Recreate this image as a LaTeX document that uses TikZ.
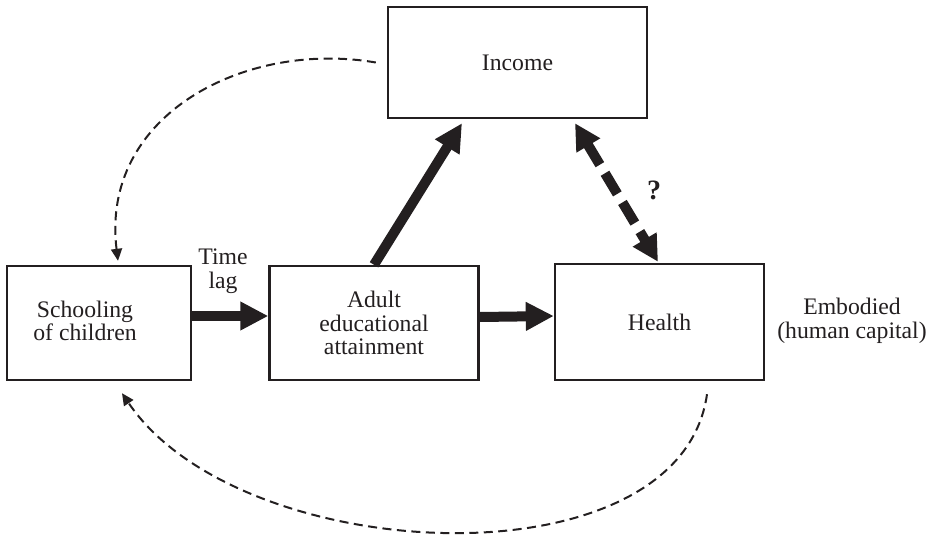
\documentclass[tikz,border=0pt]{standalone}
\usepackage{fontspec}
\setmainfont{Liberation Serif}
\usetikzlibrary{arrows.meta}
\definecolor{ink}{HTML}{231F20}
\begin{document}
\begin{tikzpicture}[x=1pt,y=-1pt,
  txt/.style={inner sep=0pt, align=center, text=ink, font=\fontsize{23.7}{23.5}\selectfont},
  box/.style={txt, draw=ink, line width=2.4pt},
  thickarrow/.style={draw=ink, line width=10pt, -{Triangle[length=28pt,width=27pt]}},
  thickdash/.style={draw=ink, line width=10pt, dash pattern=on 24pt off 10pt,
     {Triangle[length=26pt,width=26pt]}-{Triangle[length=26pt,width=26pt]}},
  thindash/.style={draw=ink, line width=2pt, dash pattern=on 9pt off 5.5pt,
     -{Triangle[length=12pt,width=11pt]}}]
\useasboundingbox (0,0) rectangle (934,538);
\node[box, minimum width=184pt, minimum height=114pt] (school) at (99,323) {};
\node[txt] (schooltxt) at (85,321) {Schooling\\of children};
\node[box, minimum width=209pt, minimum height=114pt] (adult) at (374,323) {Adult\\educational\\attainment};
\node[box, minimum width=209pt, minimum height=116pt] (health) at (659.5,322) {Health};
\node[box, minimum width=259pt, minimum height=111pt] (income) at (517.5,62.5) {Income};
\node[txt] (timelag) at (223,271) {Time\\lag};
\node[txt] (embodied) at (852,321) {Embodied\\(human capital)};
\node[txt, font=\fontsize{28}{28}\selectfont\bfseries] (q) at (654,190) {?};
\draw[thickarrow] ([yshift=7pt]school.east) -- ([yshift=7pt]adult.west);
\draw[thickarrow] ([yshift=6pt]adult.east) -- ([yshift=6pt]health.west);
\draw[thickarrow] (adult.north) -- ([xshift=-55.5pt,yshift=-4pt]income.south);
\draw[thickdash] ([xshift=57.5pt,yshift=-4pt]income.south) -- ([xshift=-1.5pt,yshift=1pt]health.north);
\draw[thindash] ([xshift=-11pt]income.west) .. controls (245,40) and (100,115) .. ([xshift=19pt,yshift=4pt]school.north);
\draw[thindash] ([xshift=47.5pt,yshift=-13pt]health.south) .. controls (680,588) and (240,568) .. ([xshift=23pt,yshift=-12pt]school.south);
\end{tikzpicture}
\end{document}
